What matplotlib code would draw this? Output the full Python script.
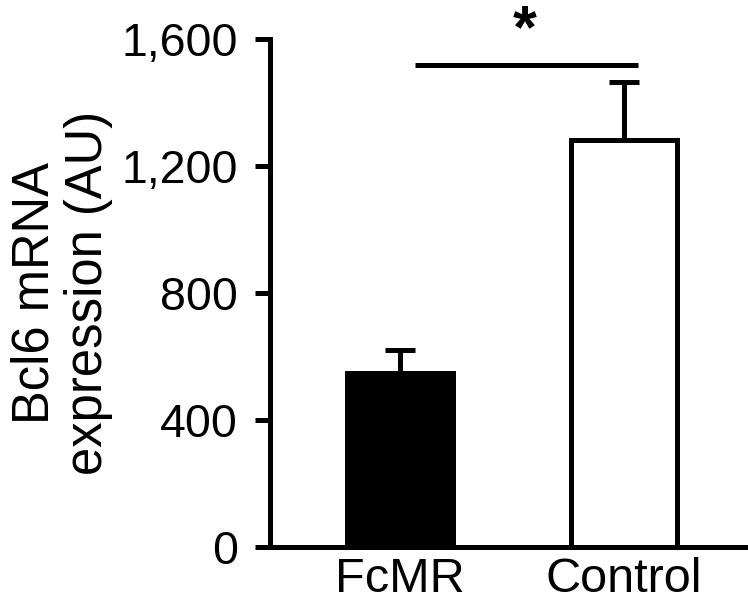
import matplotlib
matplotlib.use("Agg")
import matplotlib.pyplot as plt

categories = ["FcMR", "Control"]
means = [550, 1284]
errors = [72, 182]
bar_colors = ["black", "white"]
yticks = [0, 400, 800, 1200, 1600]
ytick_labels = ["0", "400", "800", "1,200", "1,600"]
sig_y = 1519
sig_x = [0.067, 1.063]
sig_text = "*"
ylabel = "Bcl6 mRNA\nexpression (AU)"

plt.rcParams['font.family'] = ['Liberation Sans', 'DejaVu Sans']

fig = plt.figure(figsize=(7.48, 6.02), dpi=100)
ax = fig.add_axes([270/748, 1 - 547.3/602, (745 - 270)/748, (547.3 - 39.3)/602])

lw = 3.6
x = list(range(len(categories)))
ax.bar(x, means, width=0.475, color=bar_colors, edgecolor="black", linewidth=lw, zorder=3)
ax.errorbar(x, means, yerr=[[0, 0], errors], fmt="none", ecolor="black",
            elinewidth=lw, capsize=10.5, capthick=lw, zorder=2)

ax.plot(sig_x, [sig_y, sig_y], color="black", linewidth=lw, solid_capstyle="butt")
ax.text(sum(sig_x) / 2 - 0.01, 1576, sig_text, ha="center", va="baseline", fontsize=44,
        fontweight="bold", clip_on=False)

ax.set_xlim(-0.58, 1.54)
ax.set_ylim(0, 1600)
ax.set_yticks(yticks)
ax.set_yticklabels(ytick_labels)
ax.set_xticks(x)
ax.set_xticklabels(categories)
ax.set_ylabel(ylabel, fontsize=36.5, linespacing=1.12)
ax.yaxis.set_label_coords(-0.33, 0.5)

for s in ["top", "right"]:
    ax.spines[s].set_visible(False)
for s in ["left", "bottom"]:
    ax.spines[s].set_linewidth(lw)
    ax.spines[s].set_capstyle("projecting")

ax.tick_params(axis="y", length=11, width=lw, labelsize=33.5, pad=12, direction="out")
ax.tick_params(axis="x", length=0, labelsize=35, pad=7)

fig.savefig("out.png", dpi=100, facecolor="white")
